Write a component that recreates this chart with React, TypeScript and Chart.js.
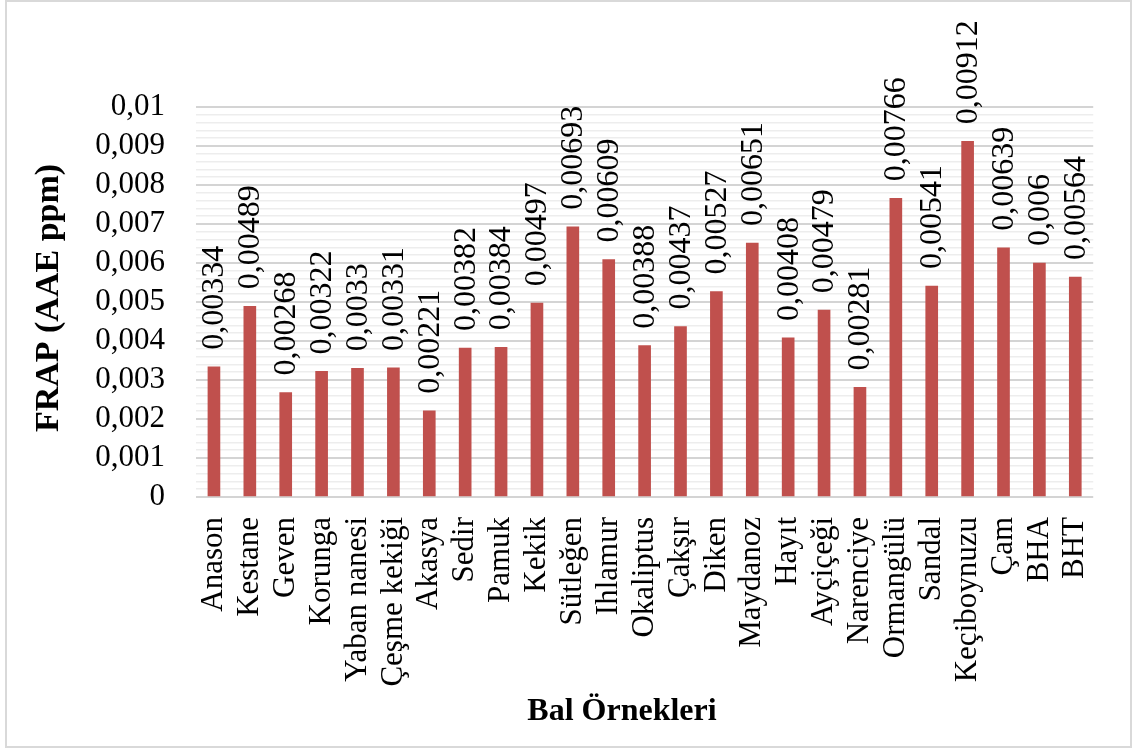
import React, { useEffect, useRef } from "react";
import { Chart, registerables } from "chart.js";

Chart.register(...registerables);

// Honey samples and their FRAP values (AAE ppm)
const categories: string[] = [
  "Anason", "Kestane", "Geven", "Korunga", "Yaban nanesi", "Çeşme kekiği",
  "Akasya", "Sedir", "Pamuk", "Kekik", "Sütleğen", "Ihlamur", "Okaliptus",
  "Çakşır", "Diken", "Maydanoz", "Hayıt", "Ayçiçeği", "Narenciye",
  "Ormangülü", "Sandal", "Keçiboynuzu", "Çam", "BHA", "BHT",
];

const frapValues: number[] = [
  0.00334, 0.00489, 0.00268, 0.00322, 0.0033, 0.00331,
  0.00221, 0.00382, 0.00384, 0.00497, 0.00693, 0.00609, 0.00388,
  0.00437, 0.00527, 0.00651, 0.00408, 0.00479, 0.00281,
  0.00766, 0.00541, 0.00912, 0.00639, 0.006, 0.00564,
];

const yMin = 0;
const yMax = 0.01;
const yMinorStep = 0.0002;

const yTitle = "FRAP (AAE ppm)";
const xTitle = "Bal Örnekleri";

const SERIF = "'Times New Roman', 'Liberation Serif', serif";
const BAR_COLOR = "#c0504d";

const formatComma = (v: number): string => String(v).replace(".", ",");

const formatTick = (v: number): string => {
  let s = v.toFixed(3);
  s = s.replace(/0+$/, "").replace(/\.$/, "");
  return s.replace(".", ",");
};

const overlayPlugin = {
  id: "overlay",
  afterDatasetsDraw(chart: any) {
    const ctx: CanvasRenderingContext2D = chart.ctx;
    const meta = chart.getDatasetMeta(0);
    ctx.save();
    ctx.fillStyle = "#000";
    ctx.font = `32px ${SERIF}`;
    ctx.textAlign = "left";
    ctx.textBaseline = "middle";
    meta.data.forEach((bar: any, i: number) => {
      ctx.save();
      ctx.translate(bar.x + 1, bar.y - 17);
      ctx.rotate(-Math.PI / 2);
      ctx.fillText(formatComma(frapValues[i]), 0, 0);
      ctx.restore();
    });

    // axis titles
    ctx.textAlign = "center";
    ctx.font = `bold 34px ${SERIF}`;
    ctx.save();
    ctx.translate(49, 298);
    ctx.rotate(-Math.PI / 2);
    ctx.fillText(yTitle, 0, 0);
    ctx.restore();
    ctx.font = `bold 32px ${SERIF}`;
    ctx.fillText(xTitle, 622, 712);

    // chart frame
    ctx.strokeStyle = "#d9d9d9";
    ctx.lineWidth = 2;
    ctx.strokeRect(6, 1, 1125, 746);
    ctx.restore();
  },
};

export default function App() {
  const canvasRef = useRef<HTMLCanvasElement | null>(null);

  useEffect(() => {
    if (!canvasRef.current) return;
    const chart = new Chart(canvasRef.current, {
      type: "bar",
      data: {
        labels: categories,
        datasets: [
          {
            data: frapValues,
            backgroundColor: BAR_COLOR,
            borderWidth: 0,
            barThickness: 12,
          },
        ],
      },
      options: {
        responsive: false,
        animation: false,
        layout: { padding: { top: 107, right: 26, left: 0, bottom: 0 } },
        plugins: {
          legend: { display: false },
          tooltip: { enabled: false },
          title: { display: false },
        },
        scales: {
          x: {
            grid: { display: false, drawTicks: false },
            border: { display: false },
            ticks: {
              color: "#000",
              font: { family: SERIF, size: 31 },
              minRotation: 90,
              maxRotation: 90,
              autoSkip: false,
              padding: 20,
            },
            afterFit: (scale: any) => {
              scale.height = 252;
            },
          },
          y: {
            min: yMin,
            max: yMax,
            border: { display: false },
            grid: {
              drawTicks: false,
              color: (c: any) => (c.index % 5 === 0 ? "#d4d4d4" : "#ededed"),
              lineWidth: (c: any) => (c.index % 5 === 0 ? 2 : 1.5),
            },
            ticks: {
              stepSize: yMinorStep,
              autoSkip: false,
              color: "#000",
              padding: 31,
              font: { family: SERIF, size: 31 },
              callback: (value: any, index: number) =>
                index % 5 === 0 ? formatTick(Number(value)) : "",
            },
            afterFit: (scale: any) => {
              scale.width = 196;
            },
          },
        },
      },
      plugins: [overlayPlugin],
    });
    return () => chart.destroy();
  }, []);

  return (
    <div
      style={{
        position: "fixed",
        left: 0,
        top: 0,
        width: 1133,
        height: 749,
        background: "#fff",
      }}
    >
      <canvas ref={canvasRef} width={1133} height={749} />
    </div>
  );
}
